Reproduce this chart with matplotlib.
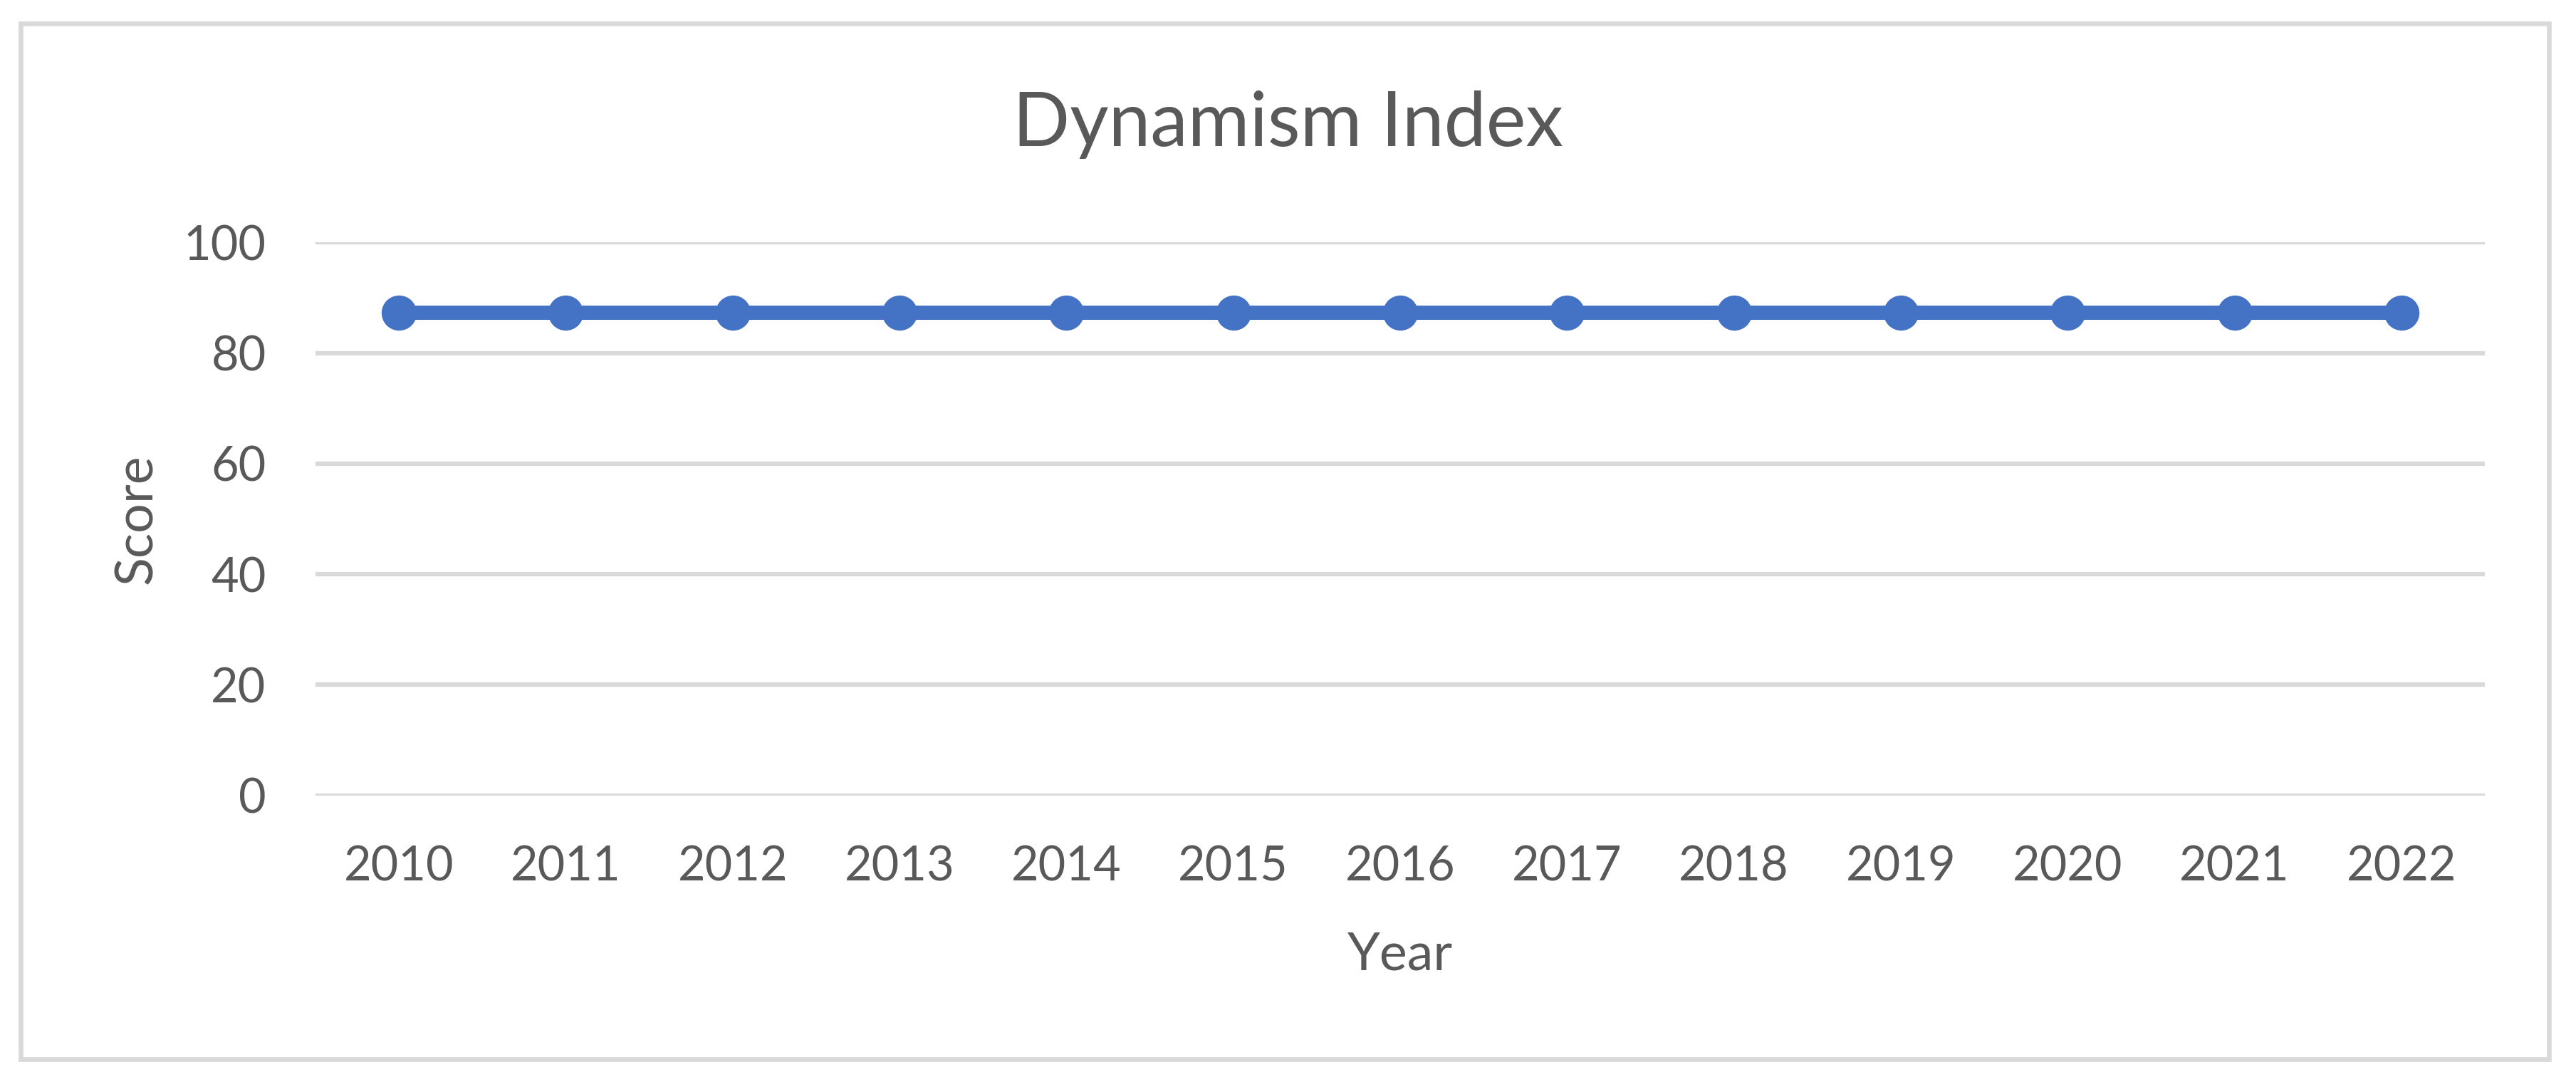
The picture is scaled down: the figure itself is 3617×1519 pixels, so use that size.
import matplotlib
matplotlib.use("Agg")
import matplotlib.pyplot as plt
from matplotlib.patches import Rectangle

years = ["2010", "2011", "2012", "2013", "2014", "2015", "2016",
         "2017", "2018", "2019", "2020", "2021", "2022"]
scores = [87.3, 87.3, 87.3, 87.3, 87.3, 87.3, 87.3,
          87.3, 87.3, 87.3, 87.3, 87.3, 87.3]
y_ticks = [0, 20, 40, 60, 80, 100]

plt.rcParams['font.family'] = ['Lato', 'DejaVu Sans']
TXT = '#595959'
GRID = '#D9D9D9'
LINE = '#4472C4'

W, H = 3617, 1519
fig = plt.figure(figsize=(W / 100, H / 100), dpi=100)
fig.patch.set_facecolor('white')

left, right = 443 / W, 3489 / W
bottom, top = 1 - 1116.7 / H, 1 - 340.3 / H
ax = fig.add_axes([left, bottom, right - left, top - bottom])

x = list(range(len(years)))
ax.plot(x, scores, color=LINE, linewidth=14.4, marker='o', markersize=34.5,
        markerfacecolor=LINE, markeredgecolor=LINE, solid_capstyle='butt', zorder=3)

ax.set_xlim(-0.5, len(years) - 0.5)
ax.set_ylim(0, 100)
ax.set_yticks(y_ticks)
ax.set_yticklabels([str(v) for v in y_ticks])
ax.set_xticks(x)
ax.set_xticklabels(years)

for s in ax.spines.values():
    s.set_visible(False)
ax.grid(axis='y', color=GRID, linewidth=4.5, zorder=0)
ax.set_axisbelow(True)
ax.tick_params(axis='both', length=0, labelsize=48, labelcolor=TXT, pad=50)

ax.set_xlabel('Year', fontsize=53, color=TXT, va='baseline')
ax.xaxis.set_label_coords(0.5, (1116.7 - 1361) / (1116.7 - 340.3))
ax.set_ylabel('Score', fontsize=53, color=TXT, va='baseline')
ax.yaxis.set_label_coords((213 - 443) / (3489 - 443), 0.5)

fig.text(0.5, 1 - 205 / H, 'Dynamism Index', fontsize=76, color=TXT,
         ha='center', va='baseline')

bx0, bx1 = 29 / W, 3579 / W
by0, by1 = 1 - 1487 / H, 1 - 33 / H
fig.patches.append(Rectangle((bx0, by0), bx1 - bx0, by1 - by0,
                             transform=fig.transFigure, fill=False,
                             edgecolor=GRID, linewidth=4.8))

fig.savefig('out.png', dpi=100, facecolor='white')
